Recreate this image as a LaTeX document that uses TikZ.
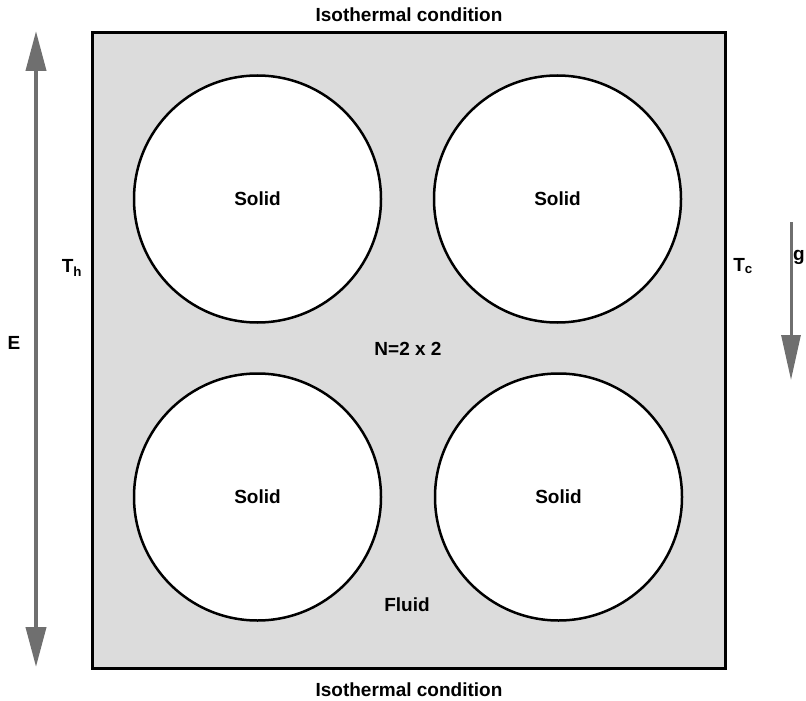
\documentclass[tikz,border=0pt]{standalone}
\usepackage{fontspec}
\setmainfont{Liberation Sans}
\usepackage{xcolor}
\usetikzlibrary{arrows.meta, positioning, calc}

\definecolor{fluidgray}{HTML}{DCDCDC}
\definecolor{arrowgray}{HTML}{6F6F6F}

\begin{document}
\begin{tikzpicture}[x=1pt, y=-1pt, font=\fontsize{19}{23}\selectfont\bfseries,
    solid/.style={draw, circle, line width=2.5pt, fill=white, minimum size=247pt, inner sep=0pt},
    bigarrow/.style={{Triangle[length=40pt, width=20pt]}-{Triangle[length=40pt, width=20pt]}, line width=4pt, arrowgray}]
    \useasboundingbox (0,0) rectangle (806,701);

    % Fluid domain
    \node (box) [draw, line width=3pt, fill=fluidgray, minimum width=633pt, minimum height=635pt, inner sep=0pt] at (408.5,350.5) {};

    % Solids
    \node (A) [solid] at (257.5,199) {Solid};
    \node (B) [solid] at (557.5,199) {Solid};
    \node (C) [solid] at (257.5,497) {Solid};
    \node (D) [solid] at (558.5,497) {Solid};

    % Labels
    \node (top) at (409,15) {Isothermal condition};
    \node (bot) at (409,690) {Isothermal condition};
    \node (N) at (408,349) {N=2 x 2};
    \node (fluid) at (407,605) {Fluid};
    \node (Th) at (72,268) {T\textsubscript{h}};
    \node (Tc) at (743,266) {T\textsubscript{c}};
    \node (E) at (14,343) {E};
    \node (g) at (799,257) {g};

    % Arrows
    \coordinate (Etop) at (36,31);
    \coordinate (Ebot) at (36,667);
    \coordinate (gtop) at (791,222);
    \coordinate (gbot) at (791,380);
    \draw[bigarrow] (Etop) -- (Ebot);
    \draw[-{Triangle[length=45pt, width=19pt]}, line width=3pt, arrowgray] (gtop) -- (gbot);
\end{tikzpicture}
\end{document}
